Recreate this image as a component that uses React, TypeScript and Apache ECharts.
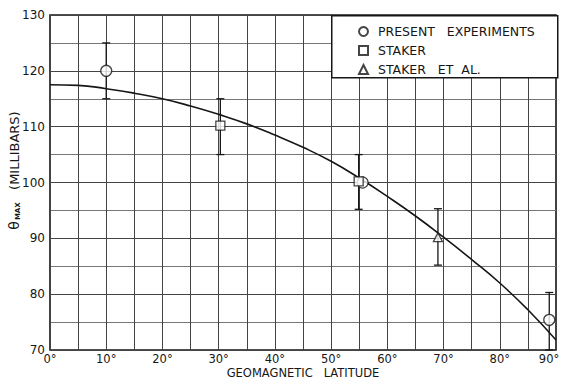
import React, { useEffect, useRef } from 'react';
import * as echarts from 'echarts';

// Smooth fitted curve (geomagnetic latitude in degrees, theta max in millibars)
const curveLat = [0, 5, 10, 15, 20, 25, 30, 35, 40, 45, 50, 55, 60, 65, 70, 75, 80, 85, 90];
const curveVal = [117.5, 117.4, 116.8, 116, 115, 113.7, 112.2, 110.5, 108.5, 106.3, 103.8, 100.8, 97.5, 94, 90.2, 86.2, 82, 77.2, 71.8];

// Measurements
const presentLat = [10, 55.6, 88.8];
const presentVal = [120, 100, 75.4];
const stakerLat = [30.3, 54.9];
const stakerVal = [110.2, 100.2];
const stakerEtAlLat = [69];
const stakerEtAlVal = [90.2];

// Error bars
const errLat = [10, 30.3, 54.9, 69, 88.8];
const errLow = [115, 105, 95.2, 85.2, 70];
const errHigh = [125, 115, 105, 95.3, 80.3];

const seriesNames = ['PRESENT   EXPERIMENTS', 'STAKER', 'STAKER   ET  AL.'];
const xTickValues = [0, 10, 20, 30, 40, 50, 60, 70, 80, 90];
const yTickValues = [70, 80, 90, 100, 110, 120, 130];

const FONT = '"DejaVu Sans", "Liberation Sans", sans-serif';
const INK = '#161616';

export default function App() {
  const ref = useRef<HTMLDivElement>(null);
  useEffect(() => {
    if (!ref.current) return;
    const chart = echarts.init(ref.current, null, { renderer: 'svg' });
    const hollow = { color: '#ffffff', borderColor: INK, borderWidth: 1.3 };
    const lastX = xTickValues[xTickValues.length - 1];
    chart.setOption({
      animation: false,
      backgroundColor: '#ffffff',
      textStyle: { fontFamily: FONT, color: INK },
      grid: {
        left: 50, right: 8, top: 15, bottom: 29,
        outerBoundsMode: 'none', containLabel: false,
        show: true, borderColor: INK, borderWidth: 1.6, backgroundColor: 'transparent'
      },
      graphic: [
        {
          type: 'rect', z: 50, left: 331, top: 15,
          shape: { width: 226, height: 62 },
          style: { fill: '#ffffff', stroke: INK, lineWidth: 1.5 }
        }
      ],
      legend: {
        z: 60,
        left: 353, top: 20,
        orient: 'vertical',
        itemWidth: 9, itemHeight: 9, itemGap: 6,
        textStyle: { fontFamily: FONT, fontSize: 12.5, color: INK, lineHeight: 13, padding: [0, 0, 0, 5] },
        data: seriesNames,
        selectedMode: false
      },
      xAxis: {
        type: 'value', min: 0, max: 90, interval: 5,
        name: 'GEOMAGNETIC   LATITUDE', nameLocation: 'middle', nameGap: 17, nameMoveOverlap: false,
        nameTextStyle: { fontFamily: FONT, fontSize: 11.5, color: INK },
        axisLine: { show: false },
        axisTick: { show: false },
        axisLabel: {
          margin: 3, fontSize: 11.5, color: INK, fontFamily: FONT,
          formatter: (v: number) => {
            if (xTickValues.indexOf(v) < 0) return '';
            return v === lastX ? '{e|' + v + '°}' : v + '°';
          },
          rich: { e: { fontSize: 11.5, fontFamily: FONT, color: INK, padding: [0, 14, 0, 0] } }
        },
        splitLine: { show: true, lineStyle: { color: '#444', width: 1 } }
      },
      yAxis: {
        type: 'value', min: 70, max: 130, interval: 5,
        name: '{t|θ}{s|MAX}   (MILLIBARS)', nameLocation: 'middle', nameGap: 29, nameRotate: 90, nameMoveOverlap: false,
        nameTextStyle: {
          fontFamily: FONT, fontSize: 13, color: INK, padding: [0, 0, 0, 24],
          rich: {
            t: { fontSize: 14, fontFamily: FONT, color: INK },
            s: { fontSize: 7, fontFamily: FONT, color: INK, fontWeight: 'bold', verticalAlign: 'bottom', padding: [6, 0, 0, 1] }
          }
        },
        axisLine: { show: false },
        axisTick: { show: false },
        axisLabel: {
          margin: 5, fontSize: 12, color: INK, fontFamily: FONT,
          formatter: (v: number) => (yTickValues.indexOf(v) >= 0 ? String(v) : '')
        },
        splitLine: { show: true, lineStyle: { color: ['#444', '#777'], width: 1 } }
      },
      series: [
        {
          type: 'custom', name: 'errors', z: 2, silent: true,
          data: errLat.map((x, i) => [x, errLow[i], errHigh[i]]),
          renderItem: (params: any, api: any) => {
            const top = api.coord([api.value(0), api.value(2)]);
            const bot = api.coord([api.value(0), api.value(1)]);
            const half = 4;
            const st = { stroke: INK, lineWidth: 1.3 };
            return {
              type: 'group',
              children: [
                { type: 'line', shape: { x1: top[0], y1: top[1], x2: bot[0], y2: bot[1] }, style: st },
                { type: 'line', shape: { x1: top[0] - half, y1: top[1], x2: top[0] + half, y2: top[1] }, style: st },
                { type: 'line', shape: { x1: bot[0] - half, y1: bot[1], x2: bot[0] + half, y2: bot[1] }, style: st }
              ]
            };
          }
        },
        {
          type: 'line', name: 'curve', z: 3, silent: true, smooth: true, showSymbol: false,
          lineStyle: { color: INK, width: 1.6 },
          data: curveLat.map((x, i) => [x, curveVal[i]])
        },
        {
          type: 'scatter', name: seriesNames[0], z: 5, symbol: 'circle', symbolSize: 11,
          itemStyle: hollow,
          data: presentLat.map((x, i) => [x, presentVal[i]])
        },
        {
          type: 'scatter', name: seriesNames[1], z: 6, symbol: 'rect', symbolSize: 9,
          itemStyle: hollow,
          data: stakerLat.map((x, i) => [x, stakerVal[i]])
        },
        {
          type: 'scatter', name: seriesNames[2], z: 5, symbol: 'triangle', symbolSize: 9,
          itemStyle: hollow,
          data: stakerEtAlLat.map((x, i) => [x, stakerEtAlVal[i]])
        }
      ]
    });
    return () => chart.dispose();
  }, []);
  return <div ref={ref} style={{ width: 564, height: 379, position: 'absolute', left: 0, top: 0 }} />;
}
